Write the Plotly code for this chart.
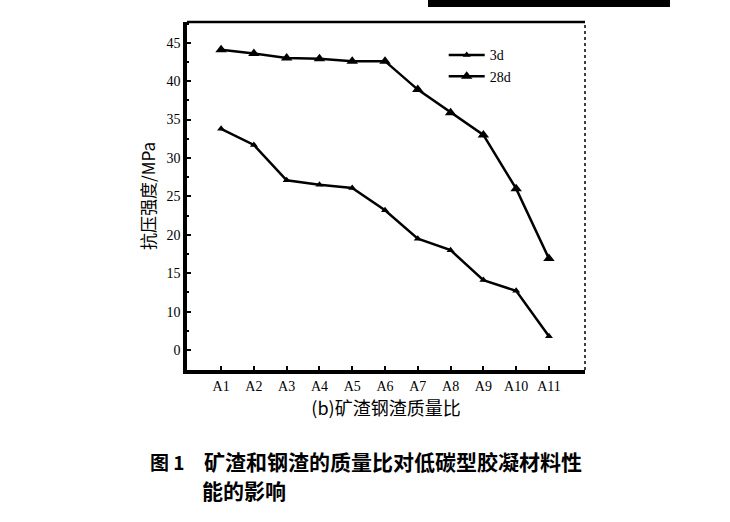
import plotly.graph_objects as go

categories = ["A1", "A2", "A3", "A4", "A5", "A6", "A7", "A8", "A9", "A10", "A11"]
strength_3d = [33.8, 31.7, 27.1, 26.5, 26.1, 23.2, 19.5, 18.0, 14.1, 12.7, 6.8]
strength_28d = [44.1, 43.6, 43.0, 42.9, 42.6, 42.6, 38.9, 35.9, 33.0, 26.0, 16.9]
y_tick_vals = [5, 10, 15, 20, 25, 30, 35, 40, 45]
y_tick_text = ["0", "10", "15", "20", "25", "30", "35", "40", "45"]

serif = "Liberation Serif, Times New Roman, serif"
cjk = "Noto Sans CJK SC, Noto Sans CJK JP, sans-serif"

xs = list(range(len(categories)))

fig = go.Figure()
fig.add_trace(go.Scatter(
    x=xs, y=strength_3d, mode="lines+markers", name="3d",
    line=dict(color="black", width=2.5),
    marker=dict(symbol="triangle-up", size=7, color="black"),
))
fig.add_trace(go.Scatter(
    x=xs, y=strength_28d, mode="lines+markers", name="28d",
    line=dict(color="black", width=2.5),
    marker=dict(symbol="triangle-up", size=10, color="black"),
))

fig.update_layout(
    width=730, height=522,
    margin=dict(l=187, r=145, t=22, b=152),
    paper_bgcolor="white", plot_bgcolor="white",
    showlegend=True,
    legend=dict(x=0.645, y=0.95, xanchor="left", yanchor="top",
                bgcolor="rgba(0,0,0,0)", font=dict(family=serif, size=14, color="black"),
                itemwidth=36, tracegroupgap=2),
    xaxis=dict(
        range=[-1.04, 11.1], tickmode="array", tickvals=xs, ticktext=categories,
        showgrid=False, zeroline=False,
        showline=True, linecolor="black", linewidth=3.5,
        ticks="inside", ticklen=4, tickwidth=2, tickcolor="black",
        tickfont=dict(family=serif, size=14, color="black"),
        title=dict(text="(b)矿渣钢渣质量比", font=dict(family=cjk, size=18, color="black"), standoff=6),
    ),
    yaxis=dict(
        range=[2.4, 47.7], tickmode="array", tickvals=y_tick_vals, ticktext=y_tick_text,
        showgrid=False, zeroline=False,
        showline=True, linecolor="black", linewidth=3.5,
        ticks="inside", ticklen=4, tickwidth=2, tickcolor="black",
        minor=dict(ticks="inside", ticklen=2, tickwidth=1.5, tickcolor="black", dtick=2.5),
        tickfont=dict(family=serif, size=14, color="black"),
        title=dict(text="抗压强度/MPa", font=dict(family=cjk, size=17, color="black"), standoff=8),
    ),
)

# top/right frame lines
fig.add_shape(type="line", xref="paper", yref="paper", x0=0, x1=1, y0=1, y1=1,
              line=dict(color="black", width=2.5))
fig.add_shape(type="line", xref="paper", yref="paper", x0=1, x1=1, y0=0, y1=1,
              line=dict(color="black", width=1.5, dash="dot"))

# black bar at top of page (scan artifact)
fig.add_shape(type="rect", xref="paper", yref="paper",
              x0=(428 - 187) / 398, x1=(670 - 187) / 398,
              y0=(370 - 0) / 348, y1=(370 - 7) / 348,
              fillcolor="black", line=dict(width=0))

# caption
fig.add_annotation(xref="paper", yref="paper", x=(148 - 187) / 398, y=(370 - 461) / 348,
                   xanchor="left", yanchor="middle", showarrow=False,
                   text="<b>图 1</b>", font=dict(family=cjk, size=19, color="black"))
fig.add_annotation(xref="paper", yref="paper", x=(202 - 187) / 398, y=(370 - 461) / 348,
                   xanchor="left", yanchor="middle", showarrow=False,
                   text="<b>矿渣和钢渣的质量比对低碳型胶凝材料性</b>",
                   font=dict(family=cjk, size=21, color="black"))
fig.add_annotation(xref="paper", yref="paper", x=(200 - 187) / 398, y=(370 - 490) / 348,
                   xanchor="left", yanchor="middle", showarrow=False,
                   text="<b>能的影响</b>", font=dict(family=cjk, size=21, color="black"))

fig.write_html("out.html")
